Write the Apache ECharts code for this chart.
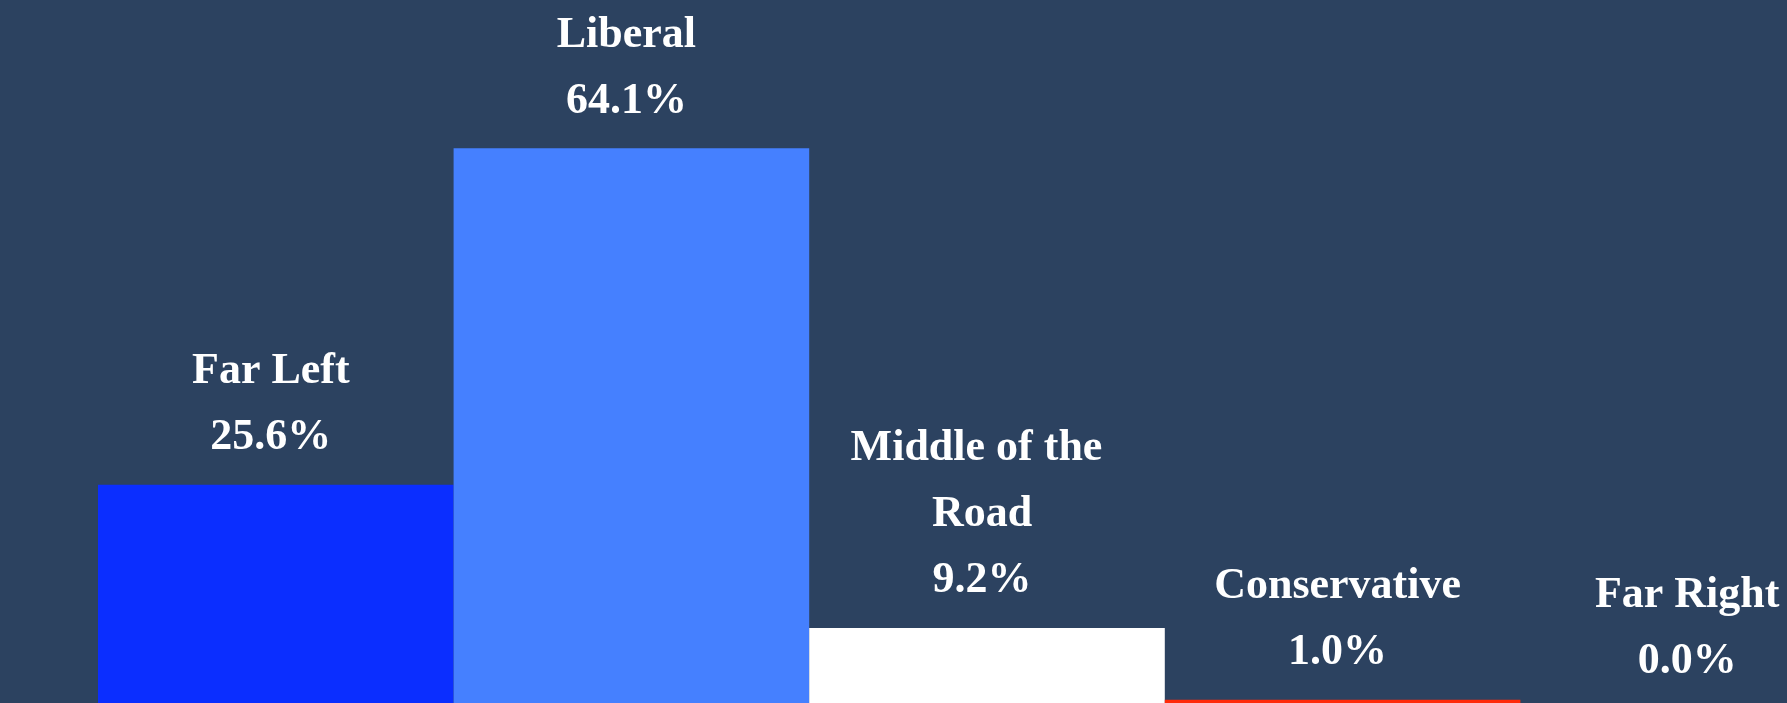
<!DOCTYPE html>
<html>
<head>
<meta charset="utf-8">
<script src="https://cdn.jsdelivr.net/npm/echarts@6/dist/echarts.min.js"></script>
<style>
html,body{margin:0;padding:0;background:#2C4260;}
#chart{width:1787px;height:703px;}
</style>
</head>
<body>
<div id="chart"></div>
<script>
const categories = ['Far Left', 'Liberal', 'Middle of the Road', 'Conservative', 'Far Right'];
const values = [25.6, 64.1, 9.2, 1.0, 0.0];
const barColors = ['#0B2EFF', '#4580FF', '#FFFFFF', '#FF2B0B', '#B01010'];

const chart = echarts.init(document.getElementById('chart'));
chart.setOption({
  backgroundColor: '#2C4260',
  animation: false,
  grid: { left: 98, width: 1778, top: 9.4, height: 699, containLabel: false, outerBoundsMode: 'none' },
  xAxis: {
    type: 'category',
    data: categories,
    show: false
  },
  yAxis: {
    type: 'value',
    min: 0,
    max: 80,
    show: false
  },
  series: [{
    type: 'bar',
    barCategoryGap: 0,
    data: values.map((v, i) => ({
      value: v,
      itemStyle: { color: barColors[i] },
      label: { offset: [i === values.length - 1 ? -11 : -5, 0] }
    })),
    label: {
      show: true,
      position: 'top',
      distance: 14,
      color: '#FFFFFF',
      fontFamily: '"Liberation Serif", "DejaVu Serif", serif',
      fontWeight: 'bold',
      fontSize: 44,
      lineHeight: 66,
      width: 320,
      overflow: 'break',
      align: 'center',
      formatter: p => p.name + '\n' + Number(p.value).toFixed(1) + '%'
    }
  }]
});
</script>
</body>
</html>
